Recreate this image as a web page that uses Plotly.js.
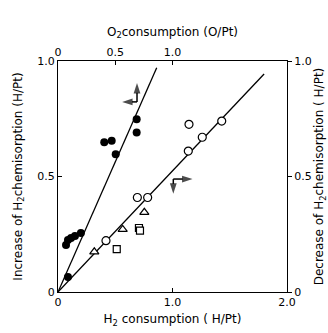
<!DOCTYPE html>
<html><head><meta charset="utf-8">
<script src="https://cdn.plot.ly/plotly-3.0.1.min.js"></script>
<style>html,body{margin:0;padding:0;background:#fff}#c{width:328px;height:333px}</style>
</head><body><div id="c"></div>
<script>
// Filled circles: O2 consumption (top axis) vs increase of H2 chemisorption (left axis)
const filledX = [0.687, 0.687, 0.404, 0.469, 0.504, 0.07, 0.087, 0.114, 0.148, 0.20, 0.087];
const filledY = [0.748, 0.691, 0.648, 0.655, 0.596, 0.203, 0.225, 0.234, 0.242, 0.255, 0.065];
const filledLineX = [0, 0.862];
const filledLineY = [0, 0.971];
// Open circles: H2 consumption (bottom) vs decrease of H2 chemisorption (right)
const openCircX = [0.419, 0.693, 0.783, 1.138, 1.26, 1.43, 1.144];
const openCircY = [0.222, 0.409, 0.409, 0.61, 0.67, 0.74, 0.726];
const triX = [0.317, 0.565, 0.754];
const triY = [0.174, 0.271, 0.345];
const sqX = [0.513, 0.707, 0.716];
const sqY = [0.186, 0.277, 0.266];
const openLineX = [0, 1.80];
const openLineY = [0, 0.944];
const xTickVals = [0, 1, 2], xTickText = ['0', '1.0', '2.0'];
const x2TickVals = [0, 0.5, 1], x2TickText = ['0', '0.5', '1.0'];
const yTickVals = [0, 0.5, 1], yTickText = ['0', '0.5', '1.0'];
// Axis-indicator arrows (tail -> head), in bottom/left axis units
const arrowsFilled = [[[0.69, 0.823], [0.69, 0.905]], [[0.69, 0.823], [0.56, 0.823]]];
const arrowsOpen = [[[1.007, 0.489], [1.175, 0.489]], [[1.007, 0.489], [1.007, 0.425]]];

const fnt = {family: 'DejaVu Sans, sans-serif', size: 11, color: '#000'};
const tfnt = {family: 'DejaVu Sans, sans-serif', size: 12, color: '#000'};
const traces = [
  {x: [], y: [], xaxis: 'x', yaxis: 'y', mode: 'markers', hoverinfo: 'skip'},
  {x: filledLineX, y: filledLineY, xaxis: 'x2', yaxis: 'y', mode: 'lines', line: {color: '#000', width: 1.3}},
  {x: openLineX, y: openLineY, xaxis: 'x', yaxis: 'y2', mode: 'lines', line: {color: '#000', width: 1.3}},
  {x: filledX, y: filledY, xaxis: 'x2', yaxis: 'y', mode: 'markers', marker: {symbol: 'circle', size: 8, color: '#000'}},
  {x: openCircX, y: openCircY, xaxis: 'x', yaxis: 'y2', mode: 'markers', marker: {symbol: 'circle', size: 8, color: '#fff', line: {color: '#000', width: 1.2}}},
  {x: triX, y: triY, xaxis: 'x', yaxis: 'y2', mode: 'markers', marker: {symbol: 'triangle-up', size: 8, color: '#fff', line: {color: '#000', width: 1.2}}},
  {x: sqX, y: sqY, xaxis: 'x', yaxis: 'y2', mode: 'markers', marker: {symbol: 'square', size: 7, color: '#fff', line: {color: '#000', width: 1.2}}}
];
arrowsFilled.concat(arrowsOpen).forEach(a => {
  traces.push({x: [a[0][0], a[1][0]], y: [a[0][1], a[1][1]], xaxis: 'x', yaxis: 'y', mode: 'lines+markers',
    line: {color: '#000', width: 1.5},
    marker: {symbol: ['circle', 'arrow'], size: [0, 11], color: '#000', angleref: 'previous', standoff: 0, line: {width: 0}}});
});
const ax = {showgrid: false, zeroline: false, showline: true, linecolor: '#000', linewidth: 1, ticks: 'inside', ticklen: 4, tickcolor: '#000', tickfont: fnt, fixedrange: true};
const layout = {
  width: 328, height: 333, margin: {l: 58, r: 41, t: 61, b: 41},
  paper_bgcolor: '#fff', plot_bgcolor: '#fff', showlegend: false, font: fnt,
  xaxis: Object.assign({}, ax, {range: [0, 2], tickvals: xTickVals, ticktext: xTickText, title: {text: 'H<sub>2</sub> consumption ( H/Pt)', font: tfnt, standoff: 6}}),
  xaxis2: Object.assign({}, ax, {range: [0, 2], overlaying: 'x', side: 'top', tickvals: x2TickVals, ticktext: x2TickText, title: {text: 'O<sub>2</sub>consumption (O/Pt)', font: tfnt, standoff: 6}}),
  yaxis: Object.assign({}, ax, {range: [0, 1], tickvals: yTickVals, ticktext: yTickText, title: {text: 'Increase of H<sub>2</sub>chemisorption (H/Pt)', font: tfnt, standoff: 12}}),
  yaxis2: Object.assign({}, ax, {range: [0, 1], overlaying: 'y', side: 'right', ticks: 'outside', tickvals: yTickVals, ticktext: yTickText, title: {text: 'Decrease of H<sub>2</sub>chemisorption ( H/Pt)', font: tfnt, standoff: 8}})
};
Plotly.newPlot('c', traces, layout, {staticPlot: true, displayModeBar: false});
</script></body></html>
